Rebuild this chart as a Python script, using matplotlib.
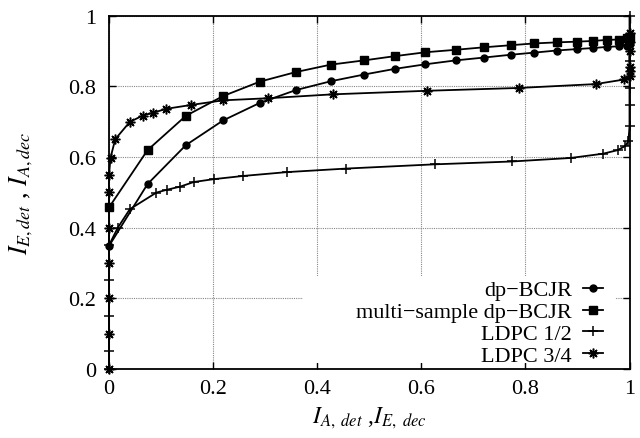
import matplotlib
matplotlib.use("Agg")
import matplotlib.pyplot as plt
from matplotlib.patches import Rectangle

plt.rcParams['font.family'] = ['Liberation Serif', 'DejaVu Serif']
plt.rcParams['mathtext.fontset'] = 'stix'

# dp-BCJR and multi-sample dp-BCJR share the same x positions
dp_x = [0.0, 0.074, 0.1475, 0.219, 0.29, 0.359, 0.426, 0.49, 0.549, 0.608, 0.666,
        0.72, 0.772, 0.817, 0.86, 0.899, 0.93, 0.956, 0.98, 0.995, 1.0]
dp_y = [0.348, 0.523, 0.633, 0.703, 0.753, 0.789, 0.814, 0.833, 0.849, 0.862, 0.873,
        0.881, 0.889, 0.895, 0.901, 0.905, 0.908, 0.911, 0.913, 0.915, 0.92]
ms_y = [0.457, 0.619, 0.716, 0.772, 0.813, 0.840, 0.861, 0.873, 0.885, 0.896, 0.903,
        0.910, 0.916, 0.921, 0.924, 0.926, 0.928, 0.931, 0.932, 0.935, 0.94]

ldpc12_x = [0.0, 0.0, 0.0, 0.0, 0.0, 0.017, 0.04, 0.091, 0.111, 0.137, 0.163, 0.201,
            0.257, 0.342, 0.456, 0.626, 0.774, 0.887, 0.949, 0.977, 0.992, 0.998,
            1.0, 1.0, 1.0, 1.0, 1.0, 1.0]
ldpc12_y = [0.0, 0.052, 0.151, 0.251, 0.35, 0.40, 0.452, 0.499, 0.507, 0.516, 0.529,
            0.537, 0.546, 0.557, 0.567, 0.579, 0.587, 0.597, 0.609, 0.619, 0.631,
            0.645, 0.687, 0.746, 0.796, 0.87, 0.94, 1.0]

ldpc34_x = [0.0, 0.0, 0.0, 0.0, 0.0, 0.0, 0.0, 0.003, 0.012, 0.04, 0.065, 0.085,
            0.11, 0.158, 0.219, 0.306, 0.43, 0.61, 0.787, 0.935, 0.99, 1.0, 1.0,
            1.0, 1.0, 1.0, 1.0]
ldpc34_y = [0.0, 0.1, 0.2, 0.3, 0.4, 0.5, 0.549, 0.598, 0.65, 0.699, 0.717, 0.725,
            0.736, 0.747, 0.760, 0.766, 0.777, 0.787, 0.795, 0.806, 0.819, 0.829,
            0.842, 0.855, 0.90, 0.925, 0.951]

labels = ['dp\u2212BCJR', 'multi\u2212sample dp\u2212BCJR', 'LDPC 1/2', 'LDPC 3/4']
ticks = [0, 0.2, 0.4, 0.6, 0.8, 1]
tick_labels = ['0', '0.2', '0.4', '0.6', '0.8', '1']

fig = plt.figure(figsize=(6.4, 4.39), dpi=100)
ax = fig.add_axes([0.1703, 0.1572, 0.8133, 0.8052])

lw = 1.3
ax.plot(dp_x, dp_y, color='black', lw=lw, marker='o', ms=5, clip_on=False, label=labels[0], zorder=3)
ax.plot(dp_x, ms_y, color='black', lw=lw, marker='s', ms=6, clip_on=False, label=labels[1], zorder=3)
ax.plot(ldpc12_x, ldpc12_y, color='black', lw=lw, marker='+', ms=7, mew=1.1, clip_on=False, label=labels[2], zorder=3)
ax.plot(ldpc34_x, ldpc34_y, color='black', lw=lw, marker=(8, 2, 0), ms=7, mew=1.1, clip_on=False, label=labels[3], zorder=3)

ax.set_xlim(0, 1)
ax.set_ylim(0, 1)
ax.set_xticks(ticks)
ax.set_xticklabels(tick_labels)
ax.set_yticks(ticks)
ax.set_yticklabels(tick_labels)
ax.tick_params(direction='in', top=True, right=True, length=5, width=1, labelsize=16)
ax.tick_params(axis='x', pad=7.5)
ax.tick_params(axis='y', pad=9)
ax.grid(True, color='#888888', linestyle=(0, (1, 1)), lw=0.8)
for s in ax.spines.values():
    s.set_linewidth(1.3)

# white box behind the key (hides the grid there)
ax.add_patch(Rectangle((0.373, 0.017), 0.599, 0.246, transform=ax.transAxes,
                       facecolor='white', edgecolor='none', zorder=2))

ax.set_xlabel(r'$I_{A,\ det}$ ,$I_{E,\ dec}$', fontsize=17)
ax.xaxis.set_label_coords(0.5, -0.10)
ax.set_ylabel(r'$I_{E,det}$ , $I_{A,dec}$', fontsize=18.5)
ax.yaxis.set_label_coords(-0.142, 0.498)

leg = ax.legend(loc='lower right', bbox_to_anchor=(0.949, 0.008), markerfirst=False,
                fontsize=16, handlelength=0.9, handletextpad=0.5, labelspacing=0.06,
                frameon=False, borderpad=0.0, borderaxespad=0.0)
for t in leg.get_texts():
    t.set_ha('right')

fig.savefig('out.png', dpi=100)
